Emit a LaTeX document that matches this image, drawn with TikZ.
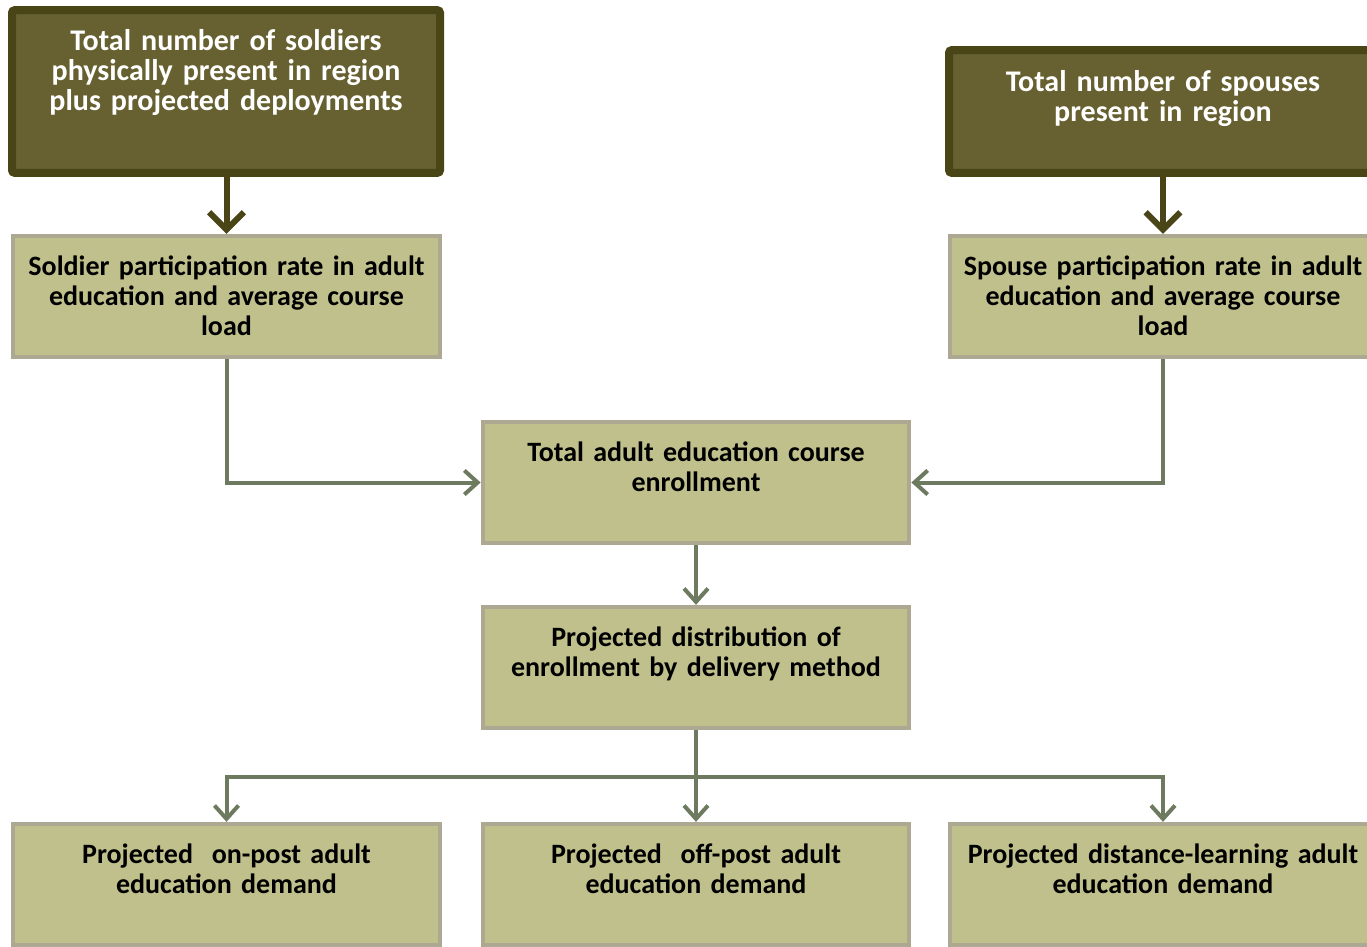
\documentclass[tikz,border=0pt]{standalone}
\usepackage{fontspec}
\setmainfont[WordSpace=0.7]{Carlito}
\usetikzlibrary{arrows.meta}

\definecolor{darkfill}{RGB}{103,96,48}
\definecolor{darkline}{RGB}{74,69,22}
\definecolor{lightfill}{RGB}{192,192,140}
\definecolor{lightline}{RGB}{172,168,145}
\definecolor{flowline}{RGB}{109,122,95}

\tikzset{every picture/.style={line width=0.75pt},
  darkbox/.style={draw=darkline, fill=darkfill, line width=6pt, rounded corners=2pt, minimum width=321pt, inner sep=0pt},
  lightbox/.style={draw=lightline, fill=lightfill, line width=3pt, minimum width=320pt, minimum height=91pt, inner sep=0pt},
  boxtext/.style={anchor=north, inner sep=0pt, text width=320pt, align=center, font=\fontsize{21}{22.5}\selectfont\bfseries},
  headtext/.style={boxtext, text=white, font=\fontsize{22.5}{22.5}\selectfont\bfseries},
  feed/.style={draw=darkline, line width=4.5pt, -{Straight Barb[length=13pt, width=26pt, line width=4.5pt]}},
  flow/.style={draw=flowline, line width=3pt, -{Straight Barb[length=10pt, width=18pt, line width=3pt]}}
}

\begin{document}
\begin{tikzpicture}[x=0.75pt,y=0.75pt,yscale=-1,xscale=1]
  \useasboundingbox (0,0) rectangle (1367,946);
  \clip (0,0) rectangle (1367,946);

  %Shape: Rectangle [top sources]
  \node [darkbox, minimum height=122pt] (soldiers) at (226,91.5) {};
  \node [darkbox, minimum height=92pt] (spouses) at (1163,111.5) {};
  %Shape: Rectangle [rates]
  \node [lightbox] (solrate) at (226.5,296.5) {};
  \node [lightbox] (sporate) at (1163,296.5) {};
  %Shape: Rectangle [totals]
  \node [lightbox] (total) at (696,482.5) {};
  \node [lightbox] (distrib) at (696,667.5) {};
  %Shape: Rectangle [demand]
  \node [lightbox] (onpost) at (226.5,884.5) {};
  \node [lightbox] (offpost) at (696,884.5) {};
  \node [lightbox] (distance) at (1163,884.5) {};

  % Text Node
  \node [headtext] (soldierstxt) at ([yshift=17pt]soldiers.north) {Total number of soldiers\\physically present in region\\plus projected deployments};
  % Text Node
  \node [headtext] (spousestxt) at ([yshift=18pt]spouses.north) {Total number of spouses\\present in region};
  % Text Node
  \node [boxtext] (solratetxt) at ([yshift=16pt]solrate.north) {Soldier participation rate in adult\\education and average course\\load};
  % Text Node
  \node [boxtext] (sporatetxt) at ([yshift=16pt]sporate.north) {Spouse participation rate in adult\\education and average course\\load};
  % Text Node
  \node [boxtext] (totaltxt) at ([yshift=16pt]total.north) {Total adult education course\\enrollment};
  % Text Node
  \node [boxtext] (distribtxt) at ([yshift=16pt]distrib.north) {Projected distribution of\\enrollment by delivery method};
  % Text Node
  \node [boxtext] (onposttxt) at ([yshift=16pt]onpost.north) {Projected\ \ on-post adult\\education demand};
  % Text Node
  \node [boxtext] (offposttxt) at ([yshift=16pt]offpost.north) {Projected\ \ off-post adult\\education demand};
  % Text Node
  \node [boxtext] (distancetxt) at ([yshift=16pt]distance.north) {Projected distance-learning adult\\education demand};

  %Straight Lines [feeds]
  \draw [feed] (soldiers.south -| solrate.north) -- (solrate.north);
  \draw [feed] (spouses.south -| sporate.north) -- (sporate.north);
  %Straight Lines [flows]
  \draw [flow] (solrate.south) |- (total.west);
  \draw [flow] (sporate.south) |- (total.east);
  \draw [flow] (total.south) -- (distrib.north);
  \draw [flow] (distrib.south) -- ++(0,47) -| (onpost.north);
  \draw [flow] (distrib.south) -- (offpost.north);
  \draw [flow] (distrib.south) -- ++(0,47) -| (distance.north);

\end{tikzpicture}
\end{document}
